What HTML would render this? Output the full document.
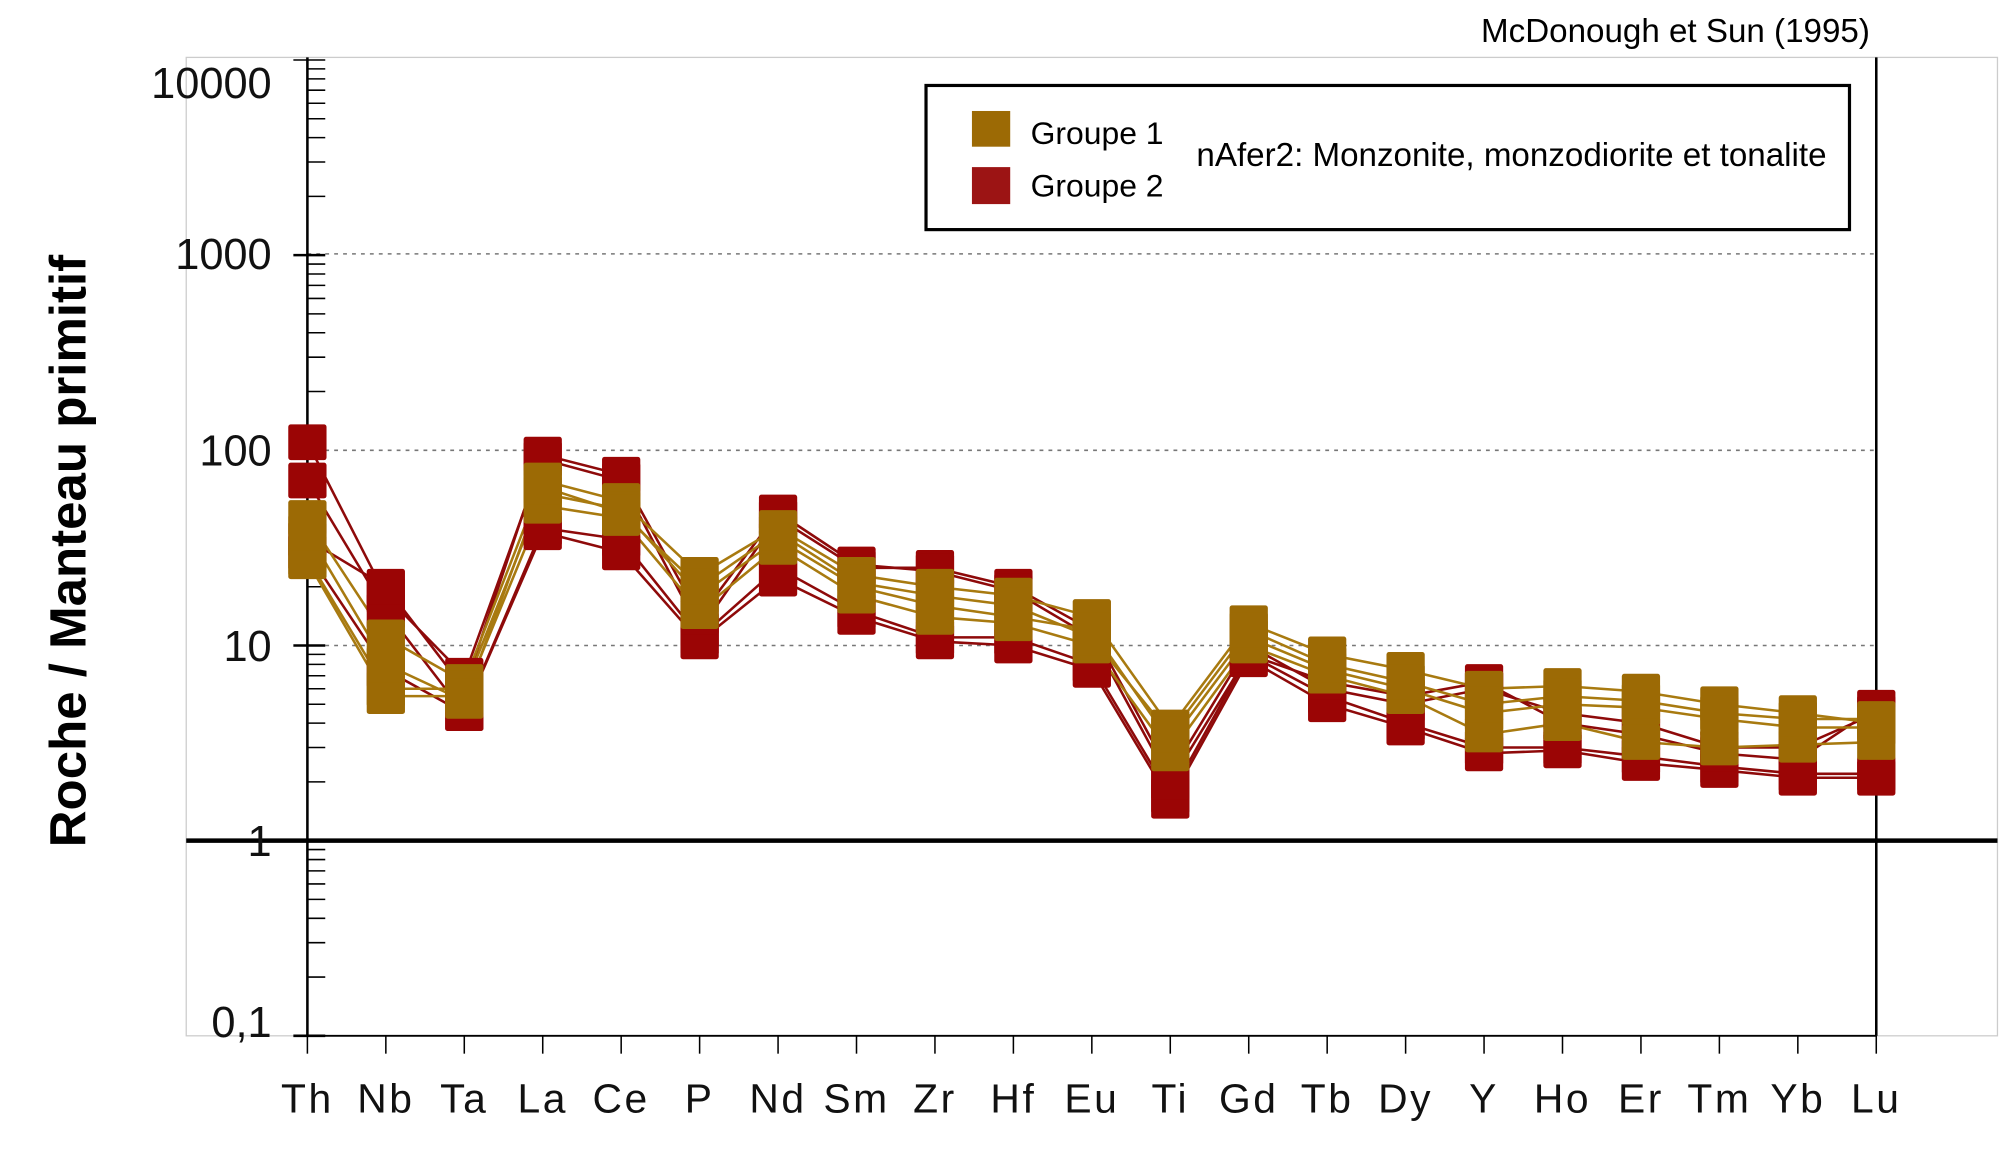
<!DOCTYPE html>
<html><head><meta charset="utf-8"><style>html,body{margin:0;padding:0;background:#fff}svg{display:block}</style></head>
<body>
<svg id="s" width="2000" height="1157" viewBox="0 0 1568 907" preserveAspectRatio="none" xmlns="http://www.w3.org/2000/svg" font-family="Liberation Sans, sans-serif">
<rect x="146" y="45" width="1420" height="767" fill="none" stroke="#ccc" stroke-width="1"/>
<g stroke="#777" stroke-width="1.2" stroke-dasharray="3,4">
<line x1="241" y1="199" x2="1471" y2="199"/><line x1="241" y1="353" x2="1471" y2="353"/><line x1="241" y1="506" x2="1471" y2="506"/>
</g>
<line x1="241" y1="45" x2="241" y2="812" stroke="#000" stroke-width="2"/>
<line x1="1471" y1="45" x2="1471" y2="812" stroke="#000" stroke-width="2"/>
<line x1="146" y1="659" x2="1566" y2="659" stroke="#000" stroke-width="3.5"/>
<line x1="236" y1="812" x2="1471" y2="812" stroke="#000" stroke-width="1.5"/>
<g id="ticks" stroke="#000" stroke-width="1.2"></g>
<g id="lines" fill="none" stroke-width="2"></g>
<g id="marks"></g>
<g font-size="34" text-anchor="end" fill="#111">
<text x="213" y="77">10000</text><text x="213" y="211">1000</text><text x="213" y="365">100</text><text x="213" y="518">10</text><text x="213" y="671">1</text><text x="213" y="813">0,1</text>
</g>
<g id="xl" font-size="32" text-anchor="middle" fill="#111" letter-spacing="2"></g>
<text transform="translate(67,432) rotate(-90)" text-anchor="middle" font-size="40" font-weight="bold">Roche / Manteau primitif</text>
<text x="1466" y="33" text-anchor="end" font-size="26">McDonough et Sun (1995)</text>
<rect x="726" y="67" width="724" height="113" fill="#fff" stroke="#000" stroke-width="2.5"/>
<rect x="762" y="87" width="30" height="28" fill="#9c6a05"/>
<rect x="762" y="131" width="30" height="29" fill="#9c1414"/>
<text x="808" y="113" font-size="25">Groupe 1</text>
<text x="808" y="154" font-size="25">Groupe 2</text>
<text x="938" y="130" font-size="26" textLength="494">nAfer2: Monzonite, monzodiorite et tonalite</text>
</svg>
<script>
var NS="http://www.w3.org/2000/svg";
function el(t,a,p){var e=document.createElementNS(NS,t);for(var k in a)e.setAttribute(k,a[k]);document.getElementById(p).appendChild(e);return e;}
var els=["Th","Nb","Ta","La","Ce","P","Nd","Sm","Zr","Hf","Eu","Ti","Gd","Tb","Dy","Y","Ho","Er","Tm","Yb","Lu"];
function X(i){return 241+i*61.5;}
function Y(v){return 659-153*Math.log10(v);}
els.forEach(function(n,i){var t=el("text",{x:X(i),y:872},"xl");t.textContent=n;el("line",{x1:X(i),y1:812,x2:X(i),y2:826},"ticks");});
for(var d=-1;d<4;d++){for(var m=1;m<10;m++){var v=m*Math.pow(10,d);var y=Y(v);el("line",{x1:(m==1?230:241),y1:y,x2:255,y2:y,"stroke-width":(m==1?2:1.2)},"ticks");}}
el("line",{x1:230,y1:Y(10000),x2:255,y2:Y(10000)},"ticks");
var red=[[110,18,7,90,70,12,45,25,25,20,12,2.2,10,6,5,6,4.5,4,3,3,4.5],
[70,15,4.5,40,35,11,25,15,11,11,8,1.7,9,5.5,4,3,3,2.7,2.4,2.2,2.2],
[30,7.5,4.5,38,30,10.5,22,14,10.5,10,7.5,1.6,8.5,5,3.8,2.8,2.9,2.5,2.3,2.1,2.1],
[35,20,6,95,75,14,48,26,24,19,11,2,9,6.5,5.5,6.5,4,3.5,2.8,2.6,4.8]];
var gold=[[45,11,6.5,70,55,23,40,23,20,18,14,3.8,13,9,7.5,6,6.2,5.8,5,4.5,4],
[28,6,6,60,50,18,35,20,16,14,12,3.2,11,7.5,6,4.5,5,4.8,4.2,3.8,3.8],
[27,5.5,5.5,52,45,15,32,18,14,13,10,2.8,10,7,5.5,3.5,4,3.2,3,3.1,3.2],
[38,8,5.2,65,48,20,38,21,18,16,11,3.5,12,8,6.5,5,5.5,5.2,4.5,4.2,4.2]];
function line(s,c){el("polyline",{points:s.map(function(v,i){return X(i)+","+Y(v)}).join(" "),stroke:c},"lines");}
function mk(s,c){s.forEach(function(v,i){el("rect",{x:X(i)-15,y:Y(v)-14,width:30,height:28,rx:2,fill:c},"marks");});}
red.forEach(function(s){line(s,"#8e0a0a")});gold.forEach(function(s){line(s,"#a87a10")});
red.forEach(function(s){mk(s,"#9b0505")});gold.forEach(function(s){mk(s,"#9c6a05")});
</script>
</body></html>
